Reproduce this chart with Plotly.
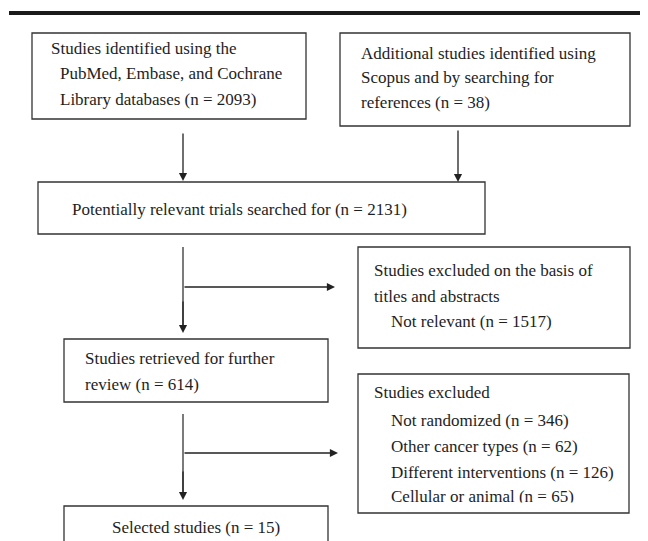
import plotly.graph_objects as go

# ---- data (text content of the flow diagram) ----
identified_db_n = 2093
identified_other_n = 38
screened_n = 2131
excluded_title_n = 1517
retrieved_n = 614
excl_reasons = ["Not randomized", "Other cancer types", "Different interventions", "Cellular or animal"]
excl_counts = [346, 62, 126, 65]
selected_n = 15

box1_lines = ["Studies identified using the", "PubMed, Embase, and Cochrane",
              f"Library databases (n = {identified_db_n})"]
box2_lines = ["Additional studies identified using", "Scopus and by searching for",
              f"references (n = {identified_other_n})"]
box3_lines = [f"Potentially relevant trials searched for (n = {screened_n})"]
box4_lines = ["Studies excluded on the basis of", "titles and abstracts",
              f"Not relevant (n = {excluded_title_n})"]
box5_lines = ["Studies retrieved for further", f"review (n = {retrieved_n})"]
box6_lines = ["Studies excluded"] + [f"{r} (n = {c})" for r, c in zip(excl_reasons, excl_counts)]
box7_lines = [f"Selected studies (n = {selected_n})"]

# ---- layout geometry (page pixels, y downward) ----
W, H = 648, 541
OFF = 8  # page body margin offset
boxes = [  # x0, y0, x1, y1
    (32, 33, 306, 119),
    (340, 33, 630, 126),
    (38, 182, 485, 234),
    (358, 247, 630, 348),
    (64, 339, 328, 402),
    (358, 374, 629, 513),
    (64, 506, 328, 560),
]
text_pos = [  # list of (x, y) per line
    [(49, 48), (58, 73), (58, 99)],
    [(359, 53), (359, 77), (359, 102)],
    [(70, 209)],
    [(372, 270), (372, 296), (389, 321)],
    [(83, 358), (83, 384)],
    [(372, 392), (389, 420), (389, 446), (389, 472), (389, 498)],
]
all_lines = [box1_lines, box2_lines, box3_lines, box4_lines, box5_lines, box6_lines]

FONT = dict(family="Liberation Serif, Times New Roman, serif", size=17, color="#1e1e1e")
LINE = dict(color="#333333", width=1.3)

fig = go.Figure()
shapes = []
annotations = []

# top rule
shapes.append(dict(type="line", x0=9, x1=660, y0=13, y1=13,
                   line=dict(color="#1a1a1a", width=4), layer="above"))

# text lines
for lines, poss in zip(all_lines, text_pos):
    for i, (t, (x, y)) in enumerate(zip(lines, poss)):
        if lines is box6_lines and i == len(lines) - 1:
            continue
        annotations.append(dict(x=x, y=y, text=t, showarrow=False, xanchor="left",
                                yanchor="middle", font=FONT, xref="x", yref="y"))
# last line of box 6 is clipped by the box in the original -> draw as trace
lx, ly = text_pos[5][-1]
fig.add_trace(go.Scatter(x=[lx + 2], y=[ly], mode="text", text=[box6_lines[-1]],
                         textposition="middle right", textfont=FONT,
                         hoverinfo="skip", showlegend=False, cliponaxis=False))
shapes.append(dict(type="rect", x0=359, x1=628, y0=502.5, y1=512.4,
                   fillcolor="white", line=dict(width=0), layer="above"))

annotations.append(dict(x=196, y=527, text=box7_lines[0], showarrow=False,
                        xanchor="center", yanchor="middle", font=FONT))

# boxes
for (x0, y0, x1, y1) in boxes:
    shapes.append(dict(type="rect", x0=x0, y0=y0, x1=x1, y1=y1,
                       line=LINE, fillcolor="rgba(0,0,0,0)", layer="above"))

# connector lines (no heads)
shapes.append(dict(type="line", x0=183, x1=183, y0=247, y1=325, line=LINE, layer="above"))
shapes.append(dict(type="line", x0=183, x1=183, y0=414, y1=492, line=LINE, layer="above"))

# arrows (tail -> head)
arrows = [
    ((183, 132), (183, 181)),
    ((458, 129), (458, 182)),
    ((183, 287), (335, 287)),
    ((183, 300), (183, 333)),
    ((183, 453), (338, 453)),
    ((183, 470), (183, 500)),
]
for (tx, ty), (hx, hy) in arrows:
    annotations.append(dict(x=hx, y=hy, ax=tx, ay=ty, xref="x", yref="y",
                            axref="x", ayref="y", showarrow=True, text="",
                            arrowhead=2, arrowsize=1.25, arrowwidth=1.3,
                            arrowcolor="#222222", standoff=0, startstandoff=0))

fig.update_layout(
    width=W, height=H, margin=dict(l=0, r=0, t=0, b=0),
    paper_bgcolor="white", plot_bgcolor="white",
    xaxis=dict(range=[OFF, W + OFF], visible=False, fixedrange=True),
    yaxis=dict(range=[H + OFF, OFF], visible=False, fixedrange=True),
    shapes=shapes, annotations=annotations, showlegend=False,
)
fig.write_html("out.html")
